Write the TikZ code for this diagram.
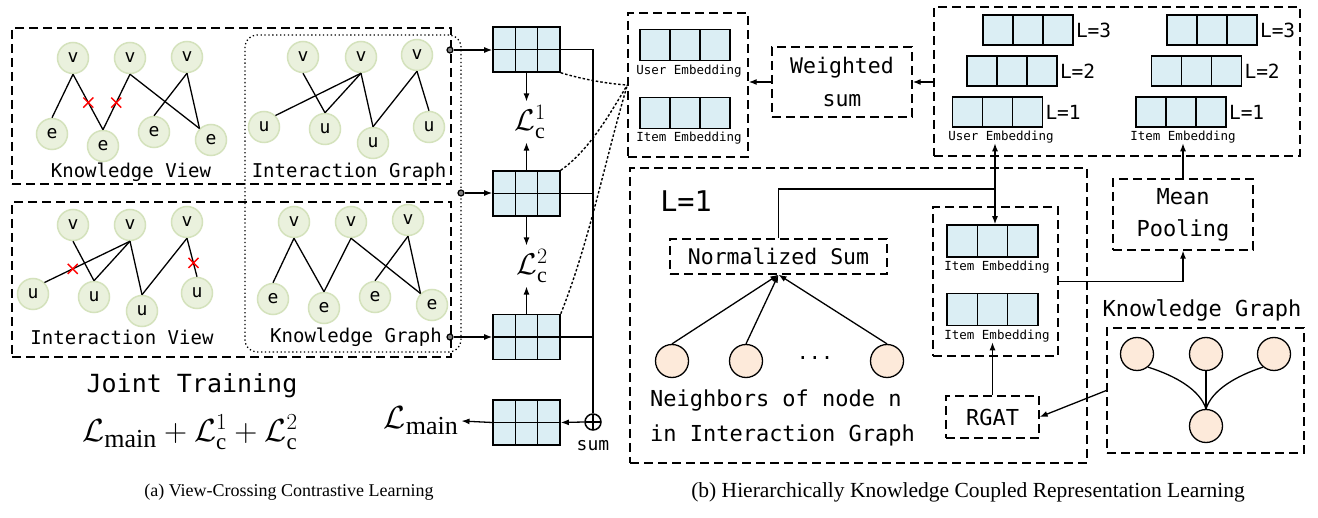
\RequirePackage{fix-cm}
\documentclass[tikz,border=0pt]{standalone}
\usepackage{fontspec}
\setmainfont{Liberation Serif}
\newfontfamily\gmono{DejaVu Sans Mono}
\usetikzlibrary{arrows.meta,calc}
\newcommand\fsz[1]{\fontsize{#1}{#1}\selectfont}
\DeclareMathSizes{30}{30}{22}{16}
\DeclareMathSizes{32}{32}{23}{17}

\definecolor{nodefill}{RGB}{234,241,221}
\definecolor{nodeline}{RGB}{212,226,188}
\definecolor{cellblue}{RGB}{219,238,244}
\definecolor{peach}{RGB}{253,234,218}

\tikzset{
  gnode/.style={circle, minimum size=31pt, inner sep=0pt, fill=nodefill,
    draw=nodeline, line width=1.5pt, font=\gmono\fsz{18}},
  gedge/.style={line width=1.3pt},
  glabel/.style={font=\gmono\fsz{19}, inner sep=0pt},
  dbox/.style={draw, line width=1.3pt, dash pattern=on 9pt off 5pt, inner sep=0pt},
  dotframe/.style={draw, line width=1.3pt, dash pattern=on 1.3pt off 2.6pt,
    rounded corners=12pt, inner sep=0pt},
  arr/.style={line width=1.3pt, -{Latex[length=8pt,width=6pt]}},
  wire/.style={line width=1.3pt},
  dcurve/.style={line width=1.4pt, dash pattern=on 2.5pt off 2pt},
  dotend/.style={circle, draw, fill=gray, line width=1.2pt, minimum size=6pt, inner sep=0pt},
  grid23/.style={draw, line width=1.6pt, fill=cellblue, minimum width=67pt,
    minimum height=45pt, inner sep=0pt,
    path picture={
      \draw[line width=1.6pt]
        ($(path picture bounding box.north west)!1/3!(path picture bounding box.north east)$) --
        ($(path picture bounding box.south west)!1/3!(path picture bounding box.south east)$)
        ($(path picture bounding box.north west)!2/3!(path picture bounding box.north east)$) --
        ($(path picture bounding box.south west)!2/3!(path picture bounding box.south east)$)
        (path picture bounding box.west) -- (path picture bounding box.east);
    }},
  row13/.style={draw, line width=1.6pt, fill=cellblue, minimum width=90pt,
    minimum height=31pt, inner sep=0pt,
    path picture={
      \draw[line width=1.6pt]
        ($(path picture bounding box.north west)!1/3!(path picture bounding box.north east)$) --
        ($(path picture bounding box.south west)!1/3!(path picture bounding box.south east)$)
        ($(path picture bounding box.north west)!2/3!(path picture bounding box.north east)$) --
        ($(path picture bounding box.south west)!2/3!(path picture bounding box.south east)$);
    }},
  elabel/.style={font=\gmono\fsz{12.5}, inner sep=0pt},
  llabel/.style={font=\gmono\fsz{19.5}, inner sep=0pt, anchor=west},
  pnode/.style={circle, draw, line width=1.3pt, fill=peach, minimum size=33pt, inner sep=0pt},
  sumnode/.style={circle, draw, line width=1.5pt, minimum size=16pt, inner sep=0pt,
    path picture={
      \draw[line width=1.5pt]
        (path picture bounding box.north) -- (path picture bounding box.south)
        (path picture bounding box.west) -- (path picture bounding box.east);
    }},
  redx/.pic={\draw[red, line width=1.4pt] (-5,-5) -- (5,5) (-5,5) -- (5,-5);},
}

\begin{document}
\begin{tikzpicture}[x=1pt, y=-1pt]
\useasboundingbox (0,0) rectangle (1318,518);
\fill[white] (0,0) rectangle (1318,518);

% ---------- view frames ----------
\node[dbox, minimum width=439pt, minimum height=156pt] (lt) at (231.5,106) {};
\node[dbox, minimum width=439pt, minimum height=155pt] (lb) at (231.5,279.5) {};
\node[dotframe, minimum width=216pt, minimum height=317pt] (dotf) at (353,193.5) {};

% ---------- Knowledge View ----------
\node[gnode] (kv1) at (73,58) {v};
\node[gnode] (kv2) at (130,58) {v};
\node[gnode] (kv3) at (187,57) {v};
\node[gnode] (ke1) at (52,134) {e};
\node[gnode] (ke2) at (103,146) {e};
\node[gnode] (ke3) at (154,132) {e};
\node[gnode] (ke4) at (211,140) {e};
\draw[gedge] (kv1.south) -- (ke1.north);
\draw[gedge] (kv1.south) -- (ke2.north);
\draw[gedge] (kv2.south) -- (ke2.north);
\draw[gedge] (kv2.south) -- (ke4.north west);
\draw[gedge] (kv3.south) -- (ke3.north);
\draw[gedge] (kv3.south) -- (ke4.north west);
\pic at ($(kv1.south)!0.51!(ke2.north)$) {redx};
\pic at ($(kv2.south)!0.51!(ke2.north)$) {redx};
\node[glabel] (kvl) at (131,172) {Knowledge View};

% ---------- Interaction Graph ----------
\node[gnode] (gv1) at (303,57) {v};
\node[gnode] (gv2) at (361,57) {v};
\node[gnode] (gv3) at (417,55) {v};
\node[gnode] (gu1) at (264,127) {u};
\node[gnode] (gu2) at (325,129) {u};
\node[gnode] (gu3) at (373,143) {u};
\node[gnode] (gu4) at (429,127) {u};
\draw[gedge] (gv1.south) -- (gu2.north);
\draw[gedge] (gv2.south) -- (gu1.north east);
\draw[gedge] (gv2.south) -- (gu2.north);
\draw[gedge] (gv2.south) -- (gu3.north);
\draw[gedge] (gv3.south) -- (gu3.north);
\draw[gedge] (gv3.south) -- (gu4.north);
\node[glabel] (igl) at (349,172) {Interaction Graph};

% ---------- Interaction View ----------
\node[gnode] (iv1) at (73,225) {v};
\node[gnode] (iv2) at (130,225) {v};
\node[gnode] (iv3) at (187,222) {v};
\node[gnode] (iu1) at (33,294) {u};
\node[gnode] (iu2) at (94,297) {u};
\node[gnode] (iu3) at (142,311) {u};
\node[gnode] (iu4) at (197,293) {u};
\draw[gedge] (iv1.south) -- (iu2.north);
\draw[gedge] (iv2.south) -- (iu1.north east);
\draw[gedge] (iv2.south) -- (iu2.north);
\draw[gedge] (iv2.south) -- (iu3.north);
\draw[gedge] (iv3.south) -- (iu3.north);
\draw[gedge] (iv3.south) -- (iu4.north);
\pic at ($(iv2.south)!0.67!(iu1.north east)$) {redx};
\pic at ($(iv3.south)!0.64!(iu4.north)$) {redx};
\node[glabel] (ivl) at (122,337) {Interaction View};

% ---------- Knowledge Graph ----------
\node[gnode] (qv1) at (294,222) {v};
\node[gnode] (qv2) at (351,222) {v};
\node[gnode] (qv3) at (408,220) {v};
\node[gnode] (qe1) at (273,299) {e};
\node[gnode] (qe2) at (324,308) {e};
\node[gnode] (qe3) at (375,297) {e};
\node[gnode] (qe4) at (432,305) {e};
\draw[gedge] (qv1.south) -- (qe1.north);
\draw[gedge] (qv1.south) -- (qe2.north);
\draw[gedge] (qv2.south) -- (qe2.north);
\draw[gedge] (qv2.south) -- (qe4.north west);
\draw[gedge] (qv3.south) -- (qe3.north);
\draw[gedge] (qv3.south) -- (qe4.north west);
\node[glabel] (kgl) at (356,337) {Knowledge Graph};

% ---------- joint training ----------
\node[font=\gmono\fsz{25}, inner sep=0pt] (jt) at (192,386) {Joint Training};
\node[font=\fsz{32}, inner sep=0pt] (jf) at (190,432)
  {$\mathcal{L}_{\hbox{\fsz{26}main}} + \mathcal{L}_{\mathrm{c}}^{1} + \mathcal{L}_{\mathrm{c}}^{2}$};

% ---------- embeddings and losses ----------
\node[grid23] (e1) at (526.5,49.5) {};
\node[grid23] (e2) at (526.5,193.5) {};
\node[grid23] (e3) at (526.5,337) {};
\node[grid23] (e4) at (526.5,422.5) {};
\node[dotend] (d1) at (450,50) {};
\node[dotend] (d2) at (461,193) {};
\node[dotend] (d3) at (450,337) {};
\draw[arr] (d1) -- (d1 -| e1.west);
\draw[arr] (d2) -- (d2 -| e2.west);
\draw[arr] (d3) -- (d3 -| e3.west);

\node[font=\fsz{30}, inner sep=4pt] (lc1) at (530,122) {$\mathcal{L}_{\mathrm{c}}^{1}$};
\node[font=\fsz{30}, inner sep=4pt] (lc2) at (532,266) {$\mathcal{L}_{\mathrm{c}}^{2}$};
\draw[arr] (e1.south) -- (e1.south |- lc1.north);
\draw[arr] (e2.north) -- (e2.north |- lc1.south);
\draw[arr] (e2.south) -- (e2.south |- lc2.north);
\draw[arr] (e3.north) -- (e3.north |- lc2.south);

\node[sumnode] (sum) at (593,422) {};
\node[font=\gmono\fsz{18}, inner sep=0pt] (suml) at (593,446) {sum};
\draw[wire] (e1.east) -| (sum.north);
\draw[wire] (e2.east) -- (e2.east -| sum.north);
\draw[wire] (e3.east) -- (e3.east -| sum.north);
\draw[arr] (sum.west) -- (e4.east);
\node[font=\fsz{32}, inner sep=3pt] (lmain) at (421,421) {$\mathcal{L}_{\hbox{\fsz{26}main}}$};
\draw[arr] (e4.west) -- (lmain.east);

% ---------- final embeddings ----------
\node[dbox, minimum width=120pt, minimum height=144pt] (embbox) at (688,85) {};
\node[row13] (ue) at (685,45) {};
\node[elabel] (uel) at (689,71) {User Embedding};
\node[row13] (ie) at (685,113) {};
\node[elabel] (iel) at (689,138) {Item Embedding};
\coordinate (meet) at (embbox.west);
\draw[dcurve] (e1.south east) .. controls (585,80) and (610,84) .. (meet);
\draw[dcurve] (e2.north east) .. controls (590,150) and (612,110) .. (meet);
\draw[dcurve] (e3.north east) .. controls (590,240) and (605,160) .. (meet);

\node[dbox, minimum width=140pt, minimum height=70pt, align=center,
  font=\gmono\fontsize{21.5}{33}\selectfont] (wsum) at (842,82) {Weighted\\sum};
\draw[arr] (wsum.west) -- (wsum.west -| embbox.east);

% ---------- layer-wise embeddings ----------
\node[dbox, minimum width=366pt, minimum height=149pt] (layers) at (1117,81.5) {};
\draw[arr] (layers.west |- wsum.east) -- (wsum.east);
\node[row13, minimum height=30pt] (uL3) at (1028,30) {};
\node[row13, minimum height=30pt] (uL2) at (1012,71) {};
\node[row13, minimum height=30pt] (uL1) at (997.5,112) {};
\node[row13, minimum height=30pt] (iL3) at (1212,30) {};
\node[row13, minimum height=30pt] (iL2) at (1196.5,71) {};
\node[row13, minimum height=30pt] (iL1) at (1181,112) {};
\node[llabel] at ([xshift=2pt]uL3.east) {L=3};
\node[llabel] at ([xshift=2pt]uL2.east) {L=2};
\node[llabel] at ([xshift=2pt]uL1.east) {L=1};
\node[llabel] at ([xshift=2pt]iL3.east) {L=3};
\node[llabel] at ([xshift=2pt]iL2.east) {L=2};
\node[llabel] at ([xshift=2pt]iL1.east) {L=1};
\node[elabel] (uelab) at (1001,137) {User Embedding};
\node[elabel] (ielab) at (1183,137) {Item Embedding};

% ---------- one propagation layer ----------
\node[dbox, minimum width=457pt, minimum height=295pt] (lone) at (858.5,315.5) {};
\node[font=\gmono\fsz{28.5}, inner sep=0pt] (lonel) at (686,201) {L=1};
\node[dbox, minimum width=217pt, minimum height=35pt, font=\gmono\fsz{21.5}] (norm)
  at (778.5,256.5) {Normalized Sum};
\node[pnode] (n1) at (672,361) {};
\node[pnode] (n2) at (746,361) {};
\node[pnode] (n3) at (887,361) {};
\node[font=\gmono\fsz{20}, inner sep=0pt] (ndots) at (815,358) {...};
\draw[arr] (n1.north) -- (norm.south);
\draw[arr] (n2.north) -- (norm.south);
\draw[arr] (n3.north) -- (norm.south);
\node[font=\gmono\fontsize{22}{35}\selectfont, align=left, inner sep=0pt] (nbl)
  at (782.5,417.5) {Neighbors of node n\\in Interaction Graph};

\node[dbox, minimum width=125pt, minimum height=149pt] (inner) at (995.5,281.5) {};
\node[row13, minimum width=91pt, minimum height=32pt] (ie1) at (992.5,241) {};
\node[elabel] (ie1l) at (997,267) {Item Embedding};
\node[row13, minimum width=91pt, minimum height=32pt] (ie2) at (992.5,309.5) {};
\node[elabel] (ie2l) at (997,336) {Item Embedding};
\node[dbox, minimum width=93pt, minimum height=42pt, font=\gmono\fsz{22}] (rgat)
  at (992.5,417) {RGAT};
\draw[arr] (rgat.north) -- (rgat.north |- ie2l.south);

\coordinate (junc) at (995,189);
\draw[wire] (norm.north) |- (junc);
\draw[arr] (junc) -- (junc |- uelab.south);
\draw[arr] (junc) -- (junc |- ie1.north);

\node[dbox, minimum width=140pt, minimum height=71pt, align=center,
  font=\gmono\fontsize{22}{32}\selectfont] (mean) at (1183,214.5) {Mean\\Pooling};
\draw[arr] (inner.east) -| (mean.south);
\draw[arr] (mean.north) -- (mean.north |- ielab.south);

% ---------- knowledge graph ----------
\node[font=\gmono\fsz{22}, inner sep=0pt] (kgr) at (1202,310) {Knowledge Graph};
\node[dbox, minimum width=197pt, minimum height=125pt] (kgbox) at (1205.5,390.5) {};
\node[pnode] (k1) at (1137,354) {};
\node[pnode] (k2) at (1206,354) {};
\node[pnode] (k3) at (1274,354) {};
\node[pnode] (k4) at (1206,426) {};
\draw[wire] (k1.-50) .. controls (1176,376) and (1200,390) .. (k4.north);
\draw[wire] (k3.-130) .. controls (1236,376) and (1212,390) .. (k4.north);
\draw[wire] (k2) -- (k4);
\draw[arr] (kgbox.west) -- (rgat.east);

% ---------- captions ----------
\node[font=\fsz{18}, inner sep=0pt] (capa) at (289,492) {(a) View-Crossing Contrastive Learning};
\node[font=\fsz{21.5}, inner sep=0pt] (capb) at (968,492) {(b) Hierarchically Knowledge Coupled Representation Learning};
\end{tikzpicture}
\end{document}
